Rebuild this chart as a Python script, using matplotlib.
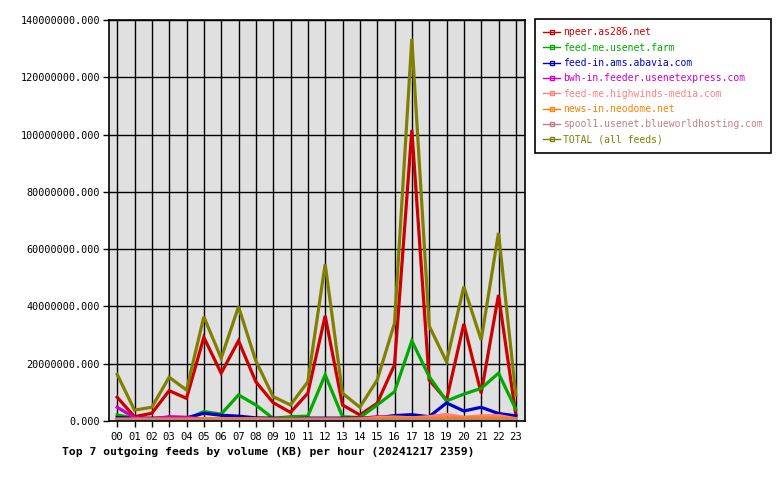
import matplotlib
matplotlib.use("Agg")
import matplotlib.pyplot as plt
from matplotlib.ticker import FuncFormatter, MultipleLocator
from matplotlib.lines import Line2D

hours = ["00", "01", "02", "03", "04", "05", "06", "07", "08", "09", "10", "11",
         "12", "13", "14", "15", "16", "17", "18", "19", "20", "21", "22", "23"]

npeer = [8.3, 1.5, 2.7, 10.6, 7.9, 29.2, 16.7, 28.0, 13.7, 6.4, 3.0, 9.7,
         36.7, 5.6, 2.1, 6.2, 19.6, 101.6, 14.3, 7.3, 33.9, 9.7, 44.0, 2.1]
feed_me_usenet = [2.1, 1.0, 0.6, 0.6, 0.6, 3.3, 2.4, 9.1, 5.6, 0.9, 1.5, 1.7,
                  16.1, 1.5, 1.2, 5.6, 10.2, 28.0, 15.5, 7.0, 9.4, 11.4, 16.7, 4.1]
feed_in_abavia = [1.2, 1.0, 1.0, 1.1, 1.1, 2.7, 2.0, 1.7, 1.1, 1.0, 0.8, 1.0,
                  1.0, 1.0, 1.0, 1.1, 1.9, 2.2, 1.5, 6.3, 3.5, 4.8, 2.6, 1.8]
bwh_in = [4.8, 1.2, 0.7, 1.5, 1.3, 0.7, 0.6, 0.6, 0.6, 0.5, 0.5, 0.6,
          0.6, 0.6, 0.9, 1.5, 1.2, 0.8, 0.7, 0.7, 0.6, 0.6, 0.7, 0.6]
highwinds = [0.4, 0.4, 0.4, 0.4, 0.4, 0.5, 0.5, 0.5, 0.5, 0.4, 0.4, 0.4,
             0.5, 0.5, 0.6, 1.2, 1.4, 1.1, 1.5, 2.3, 1.3, 1.8, 1.9, 0.8]
neodome = [0.7, 0.7, 0.7, 0.7, 0.7, 0.8, 0.8, 0.8, 0.8, 0.7, 0.7, 0.7,
           0.7, 0.7, 0.7, 0.9, 1.0, 0.9, 0.9, 1.1, 1.0, 1.1, 1.1, 0.8]
spool1 = [0.3, 0.3, 0.3, 0.3, 0.3, 0.3, 0.3, 0.3, 0.3, 0.3, 0.3, 0.3,
          0.3, 0.3, 0.3, 0.4, 0.4, 0.4, 0.4, 0.4, 0.4, 0.4, 0.4, 0.3]
total = [16.3, 3.8, 4.8, 15.3, 10.8, 36.4, 21.9, 39.9, 21.0, 8.5, 5.6, 13.7,
         54.8, 9.7, 4.8, 14.3, 34.1, 133.4, 33.2, 20.7, 46.9, 28.3, 65.7, 9.1]

series = [
    ("npeer.as286.net", npeer, "#cc0000"),
    ("feed-me.usenet.farm", feed_me_usenet, "#00aa00"),
    ("feed-in.ams.abavia.com", feed_in_abavia, "#0000cc"),
    ("bwh-in.feeder.usenetexpress.com", bwh_in, "#cc00cc"),
    ("feed-me.highwinds-media.com", highwinds, "#ff8080"),
    ("news-in.neodome.net", neodome, "#ff8000"),
    ("spool1.usenet.blueworldhosting.com", spool1, "#c08080"),
    ("TOTAL (all feeds)", total, "#808000"),
]

title = "Top 7 outgoing feeds by volume (KB) per hour (20241217 2359)"

mono = "DejaVu Sans Mono"
fig = plt.figure(figsize=(7.8, 4.8), dpi=100)
ax = fig.add_axes([108.5 / 780, 59 / 480, 416 / 780, 401 / 480])
ax.set_facecolor("#e0e0e0")

x = list(range(len(hours)))
for name, vals, col in series:
    ax.plot(x, [v * 1e6 for v in vals], color=col, lw=2.3,
            solid_joinstyle="miter", label=name)

ax.set_xlim(-0.5, 23.5)
ax.set_ylim(0, 140e6)
ax.set_xticks(x)
ax.set_xticklabels(hours, fontfamily=mono, fontsize=7.6)
ax.yaxis.set_major_locator(MultipleLocator(20e6))
ax.yaxis.set_major_formatter(FuncFormatter(lambda v, p: "%.3f" % v))
for lab in ax.get_yticklabels():
    lab.set_fontfamily(mono)
    lab.set_fontsize(7.3)
ax.tick_params(axis="both", direction="out", length=4, width=1, color="black",
               pad=2)
ax.tick_params(axis="x", pad=4)
ax.grid(True, color="black", lw=1)
ax.set_axisbelow(True)
for s in ax.spines.values():
    s.set_color("black")
    s.set_linewidth(1.2)

leg_handles = []
for _, _, c in series:
    h = Line2D([0, 1, 2], [0, 0, 0], color=c, lw=1, marker="s", markersize=3,
               markerfacecolor="none", markeredgecolor=c, markevery=[1])
    leg_handles.append(h)
leg = fig.legend(leg_handles, [s[0] for s in series], loc="upper left",
                 bbox_to_anchor=(535 / 780, 1 - 19 / 480),
                 prop={"family": mono, "size": 7.0}, frameon=True,
                 fancybox=False, edgecolor="black", framealpha=1,
                 handlelength=1.75, handletextpad=0.25, borderpad=0.85,
                 labelspacing=0.55, borderaxespad=0)
leg.get_frame().set_linewidth(1.2)
for txt, (_, _, c) in zip(leg.get_texts(), series):
    txt.set_color(c)

fig.text(62 / 780, 1 - 452 / 480, title, fontfamily=mono, fontsize=8.2,
         fontweight="bold", va="center", ha="left")

fig.savefig("out.png", dpi=100, facecolor="white")
